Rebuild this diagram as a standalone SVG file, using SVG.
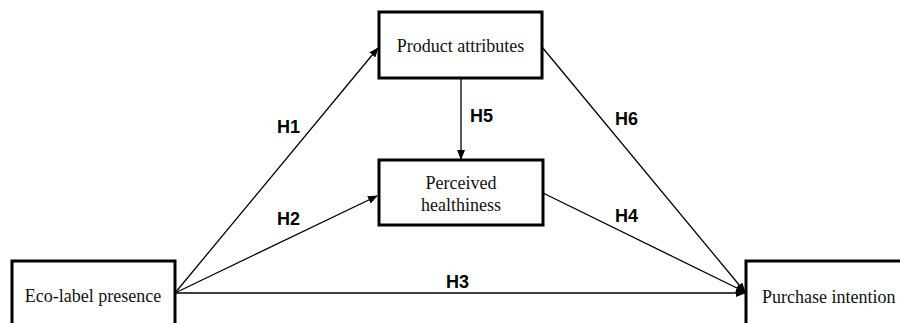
<svg xmlns="http://www.w3.org/2000/svg" width="900" height="323" viewBox="0 0 900 323">
<style>
.box{fill:#fff;stroke:#000;stroke-width:3}
.t{font-family:"Liberation Serif",serif;font-size:18px;fill:#111}
.h{font-family:"Liberation Sans",Arial,sans-serif;font-size:18px;font-weight:bold;fill:#000}
.ln{stroke:#000;stroke-width:1.3;fill:none}
</style>
<defs>
<marker id="ar" markerWidth="10" markerHeight="8" refX="9" refY="4" orient="auto" markerUnits="userSpaceOnUse">
<path d="M0,0 L10,4 L0,8 Z" fill="#000"/>
</marker>
</defs>
<g id="connectors">
<line class="ln" x1="175" y1="293" x2="378" y2="48" marker-end="url(#ar)"/>
<line class="ln" x1="175" y1="293" x2="377" y2="196" marker-end="url(#ar)"/>
<line class="ln" x1="175" y1="293" x2="745" y2="293" marker-end="url(#ar)"/>
<line class="ln" x1="461" y1="79" x2="461" y2="159" marker-end="url(#ar)"/>
<line class="ln" x1="542" y1="47" x2="745" y2="292" marker-end="url(#ar)"/>
<line class="ln" x1="543" y1="193" x2="745" y2="292" marker-end="url(#ar)"/>
<text class="h" x="277" y="133">H1</text>
<text class="h" x="277" y="225">H2</text>
<text class="h" x="446" y="288">H3</text>
<text class="h" x="615" y="222">H4</text>
<text class="h" x="470" y="122">H5</text>
<text class="h" x="615" y="125">H6</text>
</g>
<g id="product">
<rect class="box" x="379" y="12" width="163" height="66"/>
<text class="t" x="460.5" y="52" text-anchor="middle">Product attributes</text>
</g>
<g id="perceived">
<rect class="box" x="379" y="160" width="164" height="65"/>
<text class="t" x="461" y="189" text-anchor="middle">Perceived</text>
<text class="t" x="461" y="211" text-anchor="middle">healthiness</text>
</g>
<g id="eco">
<rect class="box" x="12" y="261" width="163" height="70"/>
<text class="t" x="93" y="302" text-anchor="middle">Eco-label presence</text>
</g>
<g id="purchase">
<rect class="box" x="746" y="261" width="170" height="70"/>
<text class="t" x="762" y="303">Purchase intention</text>
</g>
</svg>
